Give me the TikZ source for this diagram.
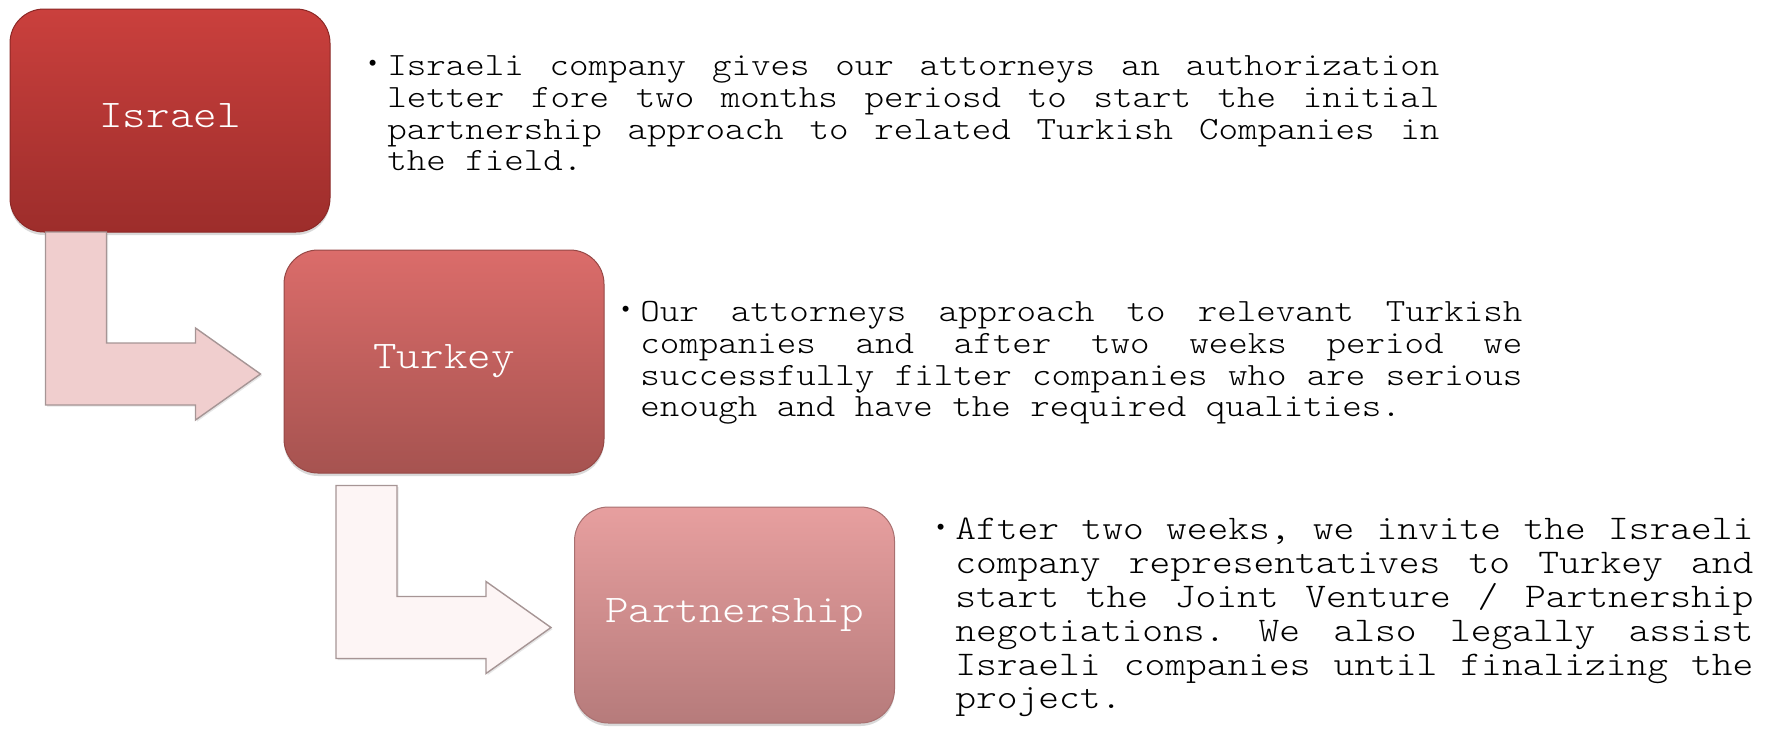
\documentclass[tikz,border=0pt]{standalone}
\usepackage{fontspec}
\newfontfamily\courfont{lmmonolt10-regular.otf}[FakeStretch=1.143]
\newfontfamily\bulletfont{Liberation Mono}
\definecolor{israeltop}{RGB}{202,64,61}
\definecolor{israelbot}{RGB}{157,45,43}
\definecolor{israeledge}{RGB}{140,40,38}
\definecolor{turkeytop}{RGB}{219,108,106}
\definecolor{turkeybot}{RGB}{166,83,80}
\definecolor{turkeyedge}{RGB}{150,72,70}
\definecolor{partnertop}{RGB}{231,159,159}
\definecolor{partnerbot}{RGB}{182,123,123}
\definecolor{partneredge}{RGB}{168,112,112}
\definecolor{arrowpink}{RGB}{240,206,206}
\definecolor{arrowwhite}{RGB}{253,245,245}
\definecolor{arrowedge}{RGB}{166,149,149}
\newcommand{\bulletmark}{\leavevmode\llap{\bulletfont\fontsize{11pt}{11pt}\selectfont\raisebox{2.5pt}{\textbullet}\hspace{4pt}}}
\usetikzlibrary{positioning, calc, shadows}

\begin{document}
\begin{tikzpicture}[
  x=0.5pt, y=-0.5pt,
  stage/.style={rectangle, rounded corners=17pt, minimum width=160pt, minimum height=111.5pt, inner sep=0pt, line width=0.5pt, text=white, font=\courfont\fontsize{19.6pt}{24pt}\selectfont, text height=10.4pt, text depth=3.2pt, drop shadow={shadow xshift=0pt, shadow yshift=-1.5pt, opacity=.3}},
  bent/.style={draw=arrowedge, line width=0.7pt, line join=miter, drop shadow={shadow xshift=0.8pt, shadow yshift=-0.8pt, opacity=.2}},
  desc/.style={anchor=north west, inner sep=0pt, align=justify, execute at begin node={\frenchspacing\spaceskip=\fontdimen2\font plus 3em\relax\hyphenpenalty=10000}}
]
  \useasboundingbox (0,0) rectangle (1771,730);

  \node[stage, top color=israeltop, bottom color=israelbot, draw=israeledge] (israel) at (170,120.5) {Israel};
  \node[stage, top color=turkeytop, bottom color=turkeybot, draw=turkeyedge] (turkey) at (444,361.5) {Turkey};
  \node[stage, minimum height=108pt, top color=partnertop, bottom color=partnerbot, draw=partneredge] (partner) at (734.5,615) {Partnership};

  % bent arrows into each stage
  \foreach \dst/\col in {turkey/arrowpink, partner/arrowwhite}
    \draw[bent, fill=\col] ($(\dst.west)+(-238,-129.5)$) -- ++(61,0) -- ++(0,111) -- ++(89,0) -- ++(0,-15) -- ++(65,46) -- ++(-65,46) -- ++(0,-15) -- ++(-150,0) -- cycle;

  \node[desc, text width=526pt, font=\courfont\fontsize{16.25pt}{15.85pt}\selectfont] (txtisrael) at (387,55.5) {\bulletmark Israeli company gives our attorneys an authorization\linebreak letter fore two months periosd to start the initial\linebreak partnership approach to related Turkish Companies in\linebreak the field.};
  \node[desc, text width=441pt, font=\courfont\fontsize{16.25pt}{15.85pt}\selectfont] (txtturkey) at (640,301) {\bulletmark Our attorneys approach to relevant Turkish\linebreak companies and after two weeks period we\linebreak successfully filter companies who are serious\linebreak enough and have the required qualities.};
  \node[desc, text width=399pt, font=\courfont\fontsize{17.3pt}{16.95pt}\selectfont] (txtpartner) at (955,517.5) {\bulletmark After two weeks, we invite the Israeli\linebreak company representatives to Turkey and\linebreak start the Joint Venture / Partnership\linebreak negotiations. We also legally assist\linebreak Israeli companies until finalizing the\linebreak project.};
\end{tikzpicture}
\end{document}
